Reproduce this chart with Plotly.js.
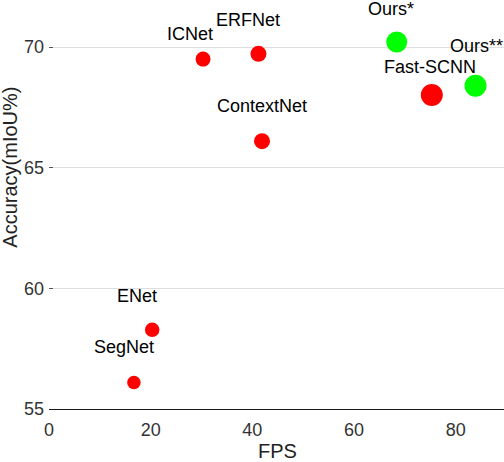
<!DOCTYPE html>
<html>
<head>
<meta charset="utf-8">
<script src="https://cdn.plot.ly/plotly-3.0.1.min.js"></script>
<style>
  html, body { margin: 0; padding: 0; background: #fff; }
  #chart { width: 504px; height: 462px; }
</style>
</head>
<body>
<div id="chart"></div>
<script>
// Speed vs accuracy of segmentation networks
const models = ['ICNet', 'ERFNet', 'ContextNet', 'Ours*', 'Fast-SCNN', 'Ours**', 'ENet', 'SegNet'];
const fps = [30.3, 41.2, 41.9, 68.4, 75.3, 83.9, 20.3, 16.7];
const accuracy = [69.5, 69.72, 66.1, 70.21, 68.01, 68.4, 58.28, 56.1];
const isOurs = [false, false, false, true, false, true, false, false];
const yTicks = [55, 60, 65, 70];
const xTicks = [0, 20, 40, 60, 80];

// marker sizes (px) and label nudges (px)
const markerSize = [15, 16, 16, 21, 22, 22, 14.5, 13.5];
const labelDx = [-13, -10, 0, -6, -2, 1, -15, -10];
const labelDy = [25, 34, 35, 33, 28, 40, 34, 35];

const FONT = 'Liberation Sans, Arial, sans-serif';

const trace = {
    x: fps,
    y: accuracy,
    type: 'scatter',
    mode: 'markers',
    cliponaxis: false,
    marker: {
        size: markerSize,
        color: isOurs.map(o => o ? '#00ff00' : '#ff0000'),
        line: { width: 0 },
        opacity: 1
    },
    hoverinfo: 'x+y+text',
    text: models
};

const labels = models.map((m, i) => ({
    x: fps[i],
    y: accuracy[i],
    xref: 'x',
    yref: 'y',
    text: m,
    showarrow: false,
    xanchor: 'center',
    yanchor: 'middle',
    xshift: labelDx[i],
    yshift: labelDy[i],
    font: { family: FONT, size: 18, color: '#000000' }
}));

// axis titles as annotations so they sit where the original has them
labels.push({
    xref: 'paper',
    yref: 'paper',
    x: 0,
    y: 0.59,
    xshift: -39,
    text: 'Accuracy(mIoU%)',
    textangle: -90,
    showarrow: false,
    xanchor: 'center',
    yanchor: 'middle',
    font: { family: FONT, size: 20, color: '#222222' }
});
labels.push({
    xref: 'paper',
    yref: 'paper',
    x: 0.503,
    y: 0,
    yshift: -42,
    text: 'FPS',
    showarrow: false,
    xanchor: 'center',
    yanchor: 'middle',
    font: { family: FONT, size: 20, color: '#222222' }
});

const layout = {
    width: 504,
    height: 462,
    margin: { l: 49, r: 0, t: 0, b: 53 },
    paper_bgcolor: '#ffffff',
    plot_bgcolor: '#ffffff',
    showlegend: false,
    font: { family: FONT, color: '#333333' },
    xaxis: {
        range: [0, 89.5],
        tickvals: xTicks,
        ticktext: xTicks.map(String),
        showgrid: false,
        zeroline: false,
        showline: true,
        linecolor: '#1a1a1a',
        linewidth: 1.3,
        ticks: '',
        ticklabelstandoff: 4,
        tickfont: { family: FONT, size: 18, color: '#333333' }
    },
    yaxis: {
        range: [55, 71.95],
        tickvals: yTicks,
        ticktext: yTicks.map(String),
        showgrid: true,
        gridcolor: '#dedede',
        gridwidth: 1,
        zeroline: false,
        showline: false,
        ticks: 'inside',
        ticklen: 4,
        tickwidth: 1,
        tickcolor: '#555555',
        ticklabelstandoff: 4,
        tickfont: { family: FONT, size: 18, color: '#333333' }
    },
    annotations: labels
};

Plotly.newPlot('chart', [trace], layout, { displayModeBar: false, staticPlot: true });
</script>
</body>
</html>
